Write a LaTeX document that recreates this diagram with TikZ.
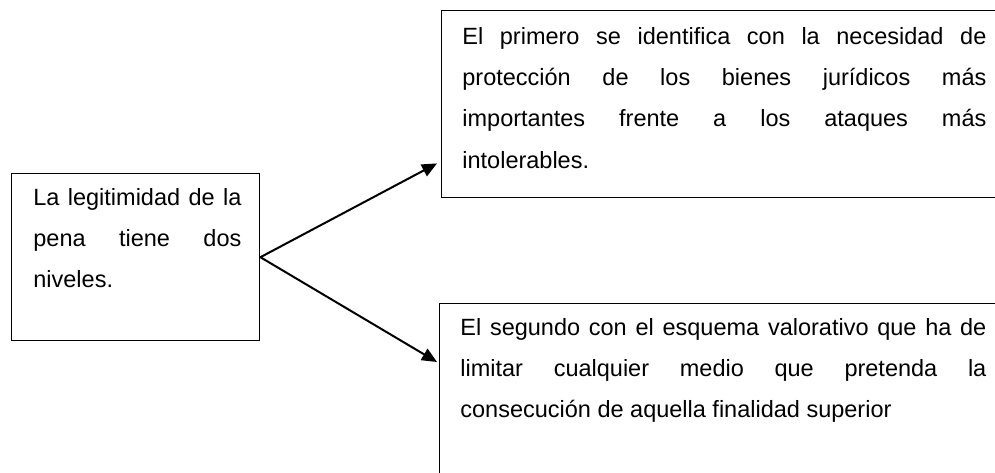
\documentclass[tikz,border=0pt]{standalone}
\usepackage{fontspec}
\setmainfont{Liberation Sans}
\usepackage{tikz}
\usetikzlibrary{arrows.meta,calc}
\newcommand\singuion{\hyphenpenalty=10000\relax\tolerance=10000\relax}

\begin{document}
\begin{tikzpicture}[x=0.5pt,y=-0.5pt,
		caja/.style={draw,line width=0.7pt,inner sep=0pt,anchor=north west},
		texto/.style={inner sep=0pt,anchor=base west,align=justify,
			font=\fontsize{11.75}{20.7}\selectfont\singuion},
		flecha/.style={line width=1pt,-{Triangle[length=7.5pt,width=6.5pt]}}]
		\useasboundingbox (0,0) rectangle (995,472);
		\clip (0,0) rectangle (995,472);
		\node[caja,minimum width=124pt,minimum height=83.5pt] (B0) at (11,173) {};
		\node[caja,minimum width=300pt,minimum height=93.5pt] (B1) at (441,10) {};
		\node[caja,minimum width=300pt,minimum height=100pt] (B2) at (439,303) {};
		\node[texto,text width=104pt] (T0) at ($(B0.north west)+(22,32)$) {La legitimidad de la\linebreak pena tiene dos\linebreak niveles.};
		\node[texto,text width=262pt] (T1) at ($(B1.north west)+(21,34)$) {El primero se identifica con la necesidad de\linebreak protección de los bienes jurídicos más\linebreak importantes frente a los ataques más\linebreak intolerables.};
		\node[texto,text width=263pt] (T2) at ($(B2.north west)+(21,32)$) {El segundo con el esquema valorativo que ha de\linebreak limitar cualquier medio que pretenda la\linebreak consecución de aquella finalidad superior};
		\coordinate (P1) at ($(B1.south west)+(-4,-35)$);
		\coordinate (P2) at ($(B2.north west)+(-2,59)$);
		\path (B0.east) edge[flecha] (P1)
			(B0.east) edge[flecha] (P2);
\end{tikzpicture}
\end{document}
